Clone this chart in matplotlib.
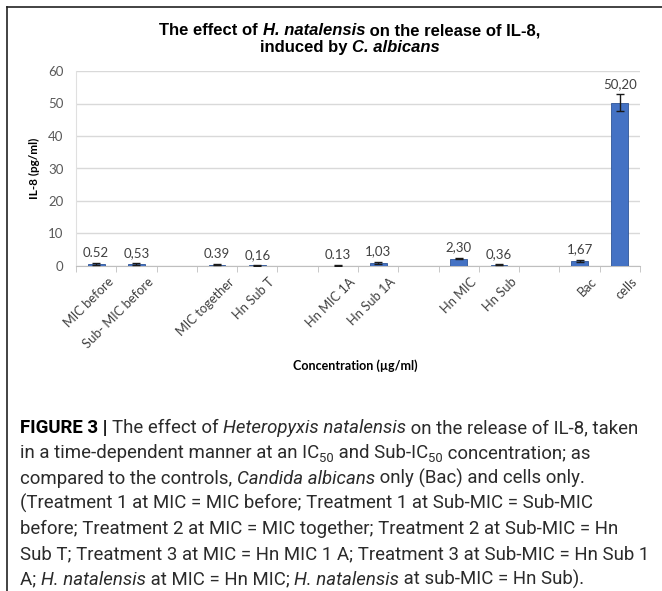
import numpy as np
import matplotlib
matplotlib.use("Agg")
import matplotlib.pyplot as plt
from matplotlib.lines import Line2D
import matplotlib.transforms as mtransforms

# data (blank slots are the gaps between groups)
categories = ["MIC before", "Sub- MIC before", "", "MIC together", "Hn Sub T", "",
              "Hn MIC 1A", "Hn Sub 1A", "", "Hn MIC", "Hn Sub", "", "Bac", "cells"]
values = [0.52, 0.53, np.nan, 0.39, 0.16, np.nan, 0.13, 1.03, np.nan, 2.30, 0.36, np.nan, 1.67, 50.20]
errors = [0.25, 0.25, 0, 0.2, 0.15, 0, 0.15, 0.3, 0, 0.3, 0.2, 0, 0.3, 2.6]
value_labels = ["0.52", "0,53", "", "0.39", "0,16", "", "0.13", "1,03", "", "2,30", "0,36", "", "1,67", "50,20"]

caption = [
    [("FIGURE 3", "bold"), (" | ", "bold"), ("The effect of ", "n"), ("Heteropyxis natalensis", "i"),
     (" on the release of IL-8, taken", "n")],
    [("in a time-dependent manner at an IC", "n"), ("50", "sub"), (" and Sub-IC", "n"), ("50", "sub"),
     (" concentration; as", "n")],
    [("compared to the controls, ", "n"), ("Candida albicans", "i"), (" only (Bac) and cells only.", "n")],
    [("(Treatment 1 at MIC = MIC before; Treatment 1 at Sub-MIC = Sub-MIC", "n")],
    [("before; Treatment 2 at MIC = MIC together; Treatment 2 at Sub-MIC = Hn", "n")],
    [("Sub T; Treatment 3 at MIC = Hn MIC 1 A; Treatment 3 at Sub-MIC = Hn Sub 1", "n")],
    [("A; ", "n"), ("H. natalensis", "i"), (" at MIC = Hn MIC; ", "n"), ("H. natalensis", "i"),
     (" at sub-MIC = Hn Sub).", "n")],
]

W, H = 662, 591
fig = plt.figure(figsize=(W / 100, H / 100), dpi=100)
fig.patch.set_facecolor("white")

# outer frame (left and top edge)
fig.add_artist(Line2D([7 / W, 7 / W], [0, 1 - 7 / H], color="#222222", lw=1.2, transform=fig.transFigure))
fig.add_artist(Line2D([7 / W, 1], [1 - 7 / H, 1 - 7 / H], color="#222222", lw=1.2, transform=fig.transFigure))

ax = fig.add_axes([76 / W, 1 - 266 / H, (640 - 76) / W, (266 - 71) / H])
x = np.arange(len(categories))
ax.bar(x, values, width=0.42, color="#4472C4", edgecolor="#2F5597", linewidth=0.6, zorder=3)
ax.errorbar(x, values, yerr=errors, fmt="none", ecolor="#1a1a1a", elinewidth=1, capsize=3, zorder=4)
for xi, v, e, lab in zip(x, values, errors, value_labels):
    if lab:
        ax.annotate(lab, (xi, v + e), xytext=(0, 3), textcoords="offset points",
                    ha="center", va="bottom", fontsize=9.5, color="#404040", family="Lato")

ax.set_xlim(-0.5, len(categories) - 0.5)
ax.set_ylim(0, 60)
ax.set_yticks(np.arange(0, 61, 10))
ax.yaxis.grid(True, color="#d9d9d9", lw=1)
ax.set_axisbelow(True)
for s in ["top", "right"]:
    ax.spines[s].set_visible(False)
ax.spines["left"].set_color("#e0e0e0")
ax.spines["bottom"].set_color("#bfbfbf")
ax.tick_params(axis="y", length=0, pad=9, labelsize=9.5, labelcolor="#595959")
ax.set_xticks(x)
ax.set_xticks(np.arange(-0.5, len(categories), 1), minor=True)
ax.tick_params(axis="x", which="major", length=0, pad=7)
ax.tick_params(axis="x", which="minor", length=4, color="#bfbfbf")
ax.set_xticklabels(categories, rotation=45, ha="right", rotation_mode="anchor",
                   fontsize=9.3, color="#404040", family="Lato")
# move the slanted labels a little to the right, as in the original
shift = mtransforms.ScaledTranslation(11 / 100, 0, fig.dpi_scale_trans)
for t in ax.get_xticklabels():
    t.set_transform(t.get_transform() + shift)
for t in ax.get_yticklabels():
    t.set_family("Lato")

ax.set_ylabel("IL-8 (pg/ml)", fontsize=8.5, fontweight="bold", family="Lato", labelpad=6)
fig.text(355 / W, 1 - 366 / H, "Concentration (\u00b5g/ml)", ha="center", va="center",
         fontsize=9, fontweight="bold", family="Lato")

# text lines built from styled pieces
def rich_line(parts, x0, y0, size, family, center=False, bold_all=False):
    r = fig.canvas.get_renderer()
    texts = []
    xpos = x0
    for s, st in parts:
        kw = dict(fontsize=size, family=family, va="baseline", ha="left", color="#2b2b2b")
        yy = y0
        if st == "bold" or bold_all:
            kw["fontweight"] = "bold"
            kw["color"] = "black"
        if st == "i":
            kw["fontstyle"] = "italic"
        if st == "sub":
            kw["fontsize"] = size * 0.7
            yy = y0 + 4
        t = fig.text(xpos / W, 1 - yy / H, s, **kw)
        bb = t.get_window_extent(r)
        xpos += bb.width
        texts.append(t)
    if center:
        total = xpos - x0
        dx = (350 - total / 2) - x0
        for t in texts:
            px, py = t.get_position()
            t.set_position((px + dx / W, py))

rich_line([("The effect of ", "n"), ("H. natalensis", "i"), (" on the release of IL-8,", "n")],
          0, 35, 12, "Liberation Sans", center=True, bold_all=True)
rich_line([("induced by ", "n"), ("C. albicans", "i")], 0, 52, 12, "Liberation Sans",
          center=True, bold_all=True)

for i, line in enumerate(caption):
    rich_line(line, 20, 433 + i * 25.3, 13.4, "Roboto")

fig.savefig("out.png", dpi=100)
